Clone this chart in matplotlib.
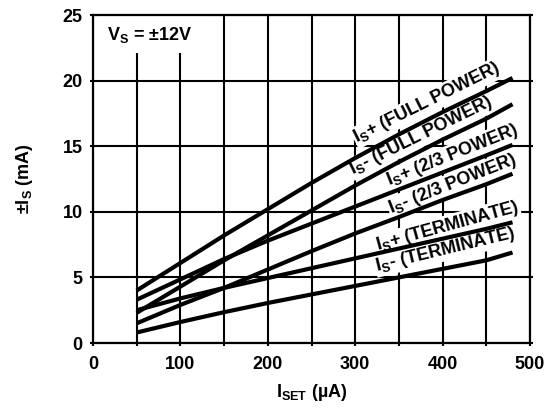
import matplotlib
matplotlib.use("Agg")
import matplotlib.pyplot as plt

plt.rcParams['font.family'] = ['Liberation Sans', 'DejaVu Sans']
plt.rcParams['font.weight'] = 'bold'
plt.rcParams['mathtext.default'] = 'regular'

# Data (I_SET in uA, supply current in mA)
i_set = [50, 100, 150, 200, 250, 300, 350, 400, 450, 480]
is_plus_full = [4.0, 6.1, 8.2, 10.2, 12.2, 14.1, 15.9, 17.6, 19.2, 20.2]
is_minus_full = [2.3, 4.3, 6.3, 8.2, 10.1, 12.0, 13.8, 15.5, 17.1, 18.2]
is_plus_23 = [3.3, 4.85, 6.4, 7.8, 9.1, 10.4, 11.7, 13.0, 14.3, 15.1]
is_minus_23 = [1.5, 2.9, 4.2, 5.6, 7.0, 8.35, 9.6, 10.9, 12.1, 12.9]
is_plus_term = [2.5, 3.4, 4.2, 4.95, 5.7, 6.45, 7.2, 7.95, 8.7, 9.2]
is_minus_term = [0.8, 1.6, 2.35, 3.05, 3.7, 4.35, 5.0, 5.65, 6.3, 6.9]

series = [is_plus_full, is_minus_full, is_plus_23, is_minus_23, is_plus_term, is_minus_term]

labels = ["I$_S$+ (FULL POWER)", "I$_S$- (FULL POWER)", "I$_S$+ (2/3 POWER)",
          "I$_S$- (2/3 POWER)", "I$_S$+ (TERMINATE)", "I$_S$- (TERMINATE)"]
label_pos = [(382, 18.3), (375, 15.8), (411, 14.3), (411, 12.1), (406, 8.9), (403, 7.1)]
label_rot = [26.4, 26.3, 21.7, 21.6, 15.3, 13.6]

x_ticks = [0, 100, 200, 300, 400, 500]
y_ticks = [0, 5, 10, 15, 20, 25]

FS = 13

fig = plt.figure(figsize=(5.56, 4.08), dpi=100)
ax = fig.add_axes([93/556, 65/408, 437/556, 328/408])

ax.set_xlim(0, 500)
ax.set_ylim(0, 25)
ax.set_xticks(x_ticks)
ax.set_yticks(y_ticks)
ax.set_xticks(range(50, 500, 50), minor=True)

ax.grid(True, which='both', axis='x', color='black', linewidth=1.5, zorder=0.5)
ax.grid(True, which='major', axis='y', color='black', linewidth=1.5, zorder=0.5)
ax.set_axisbelow(True)

for s in ax.spines.values():
    s.set_linewidth(1.6)

ax.tick_params(which='both', direction='out', length=2.5, width=1.5,
               labelsize=FS, top=False, right=True, pad=5)
ax.tick_params(axis='x', pad=7)
for lab in ax.get_xticklabels() + ax.get_yticklabels():
    lab.set_fontweight('bold')

for ys in series:
    ax.plot(i_set, ys, color='black', linewidth=3.0, solid_capstyle='butt', zorder=3)

for txt, (x, y), r in zip(labels, label_pos, label_rot):
    ax.text(x, y, txt, rotation=r, rotation_mode='anchor', ha='center', va='center',
            fontsize=FS, fontweight='bold', zorder=2,
            bbox=dict(facecolor='white', edgecolor='none', pad=0.5))

ax.text(16, 23.5, "V$_S$ = ±12V", ha='left', va='center', fontsize=FS,
        fontweight='bold', zorder=2,
        bbox=dict(facecolor='white', edgecolor='none', pad=6))

ax.set_xlabel("I$_{SET}$ (µA)", fontsize=FS, fontweight='bold', labelpad=6)
ax.set_ylabel("±I$_S$ (mA)", fontsize=FS, fontweight='bold', labelpad=20)

fig.savefig("out.png", dpi=100)
